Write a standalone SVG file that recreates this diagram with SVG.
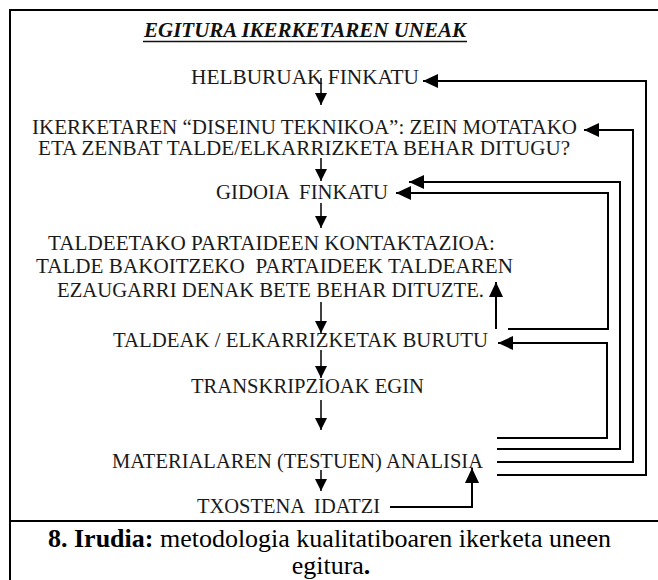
<svg xmlns="http://www.w3.org/2000/svg" width="658" height="580" viewBox="0 0 658 580">
<style>
.t{font-family:"Liberation Serif","DejaVu Serif","Times New Roman",serif;font-size:20px;fill:#1a1a1a;white-space:pre}
.title{font-family:"Liberation Serif","DejaVu Serif","Times New Roman",serif;font-size:21px;font-weight:bold;font-style:italic;fill:#111}
.cap{font-family:"Liberation Serif","DejaVu Serif","Times New Roman",serif;font-size:26px;fill:#000}
.frame{fill:none;stroke:#000;stroke-width:2}
.loop{fill:none;stroke:#000;stroke-width:2;marker-end:url(#big)}
.down{fill:none;stroke:#000;stroke-width:1.5;marker-end:url(#small)}
</style>
<defs>
<marker id="big" markerUnits="userSpaceOnUse" markerWidth="16" markerHeight="14" refX="15" refY="7" orient="auto"><path d="M0,0 L15,7 L0,14 z" fill="#000"/></marker>
<marker id="small" markerUnits="userSpaceOnUse" markerWidth="13" markerHeight="12" refX="12" refY="6" orient="auto"><path d="M0,0 L12,6 L0,12 z" fill="#000"/></marker>
</defs>
<rect x="0" y="0" width="658" height="580" fill="#fff"/>
<g id="frame">
<rect class="frame" x="10" y="10" width="660" height="600"/>
<line class="frame" x1="10" y1="521" x2="670" y2="521"/>
</g>
<g id="title">
<text class="title" x="144" y="37" textLength="322" lengthAdjust="spacingAndGlyphs">EGITURA IKERKETAREN UNEAK</text>
<line x1="143" y1="41.5" x2="467" y2="41.5" stroke="#111" stroke-width="1.5"/>
</g>
<g id="helburuak"><text class="t" x="191" y="84" textLength="228" lengthAdjust="spacingAndGlyphs">HELBURUAK FINKATU</text></g>
<g id="diseinua">
<text class="t" x="32" y="134" textLength="545" lengthAdjust="spacingAndGlyphs">IKERKETAREN “DISEINU TEKNIKOA”: ZEIN MOTATAKO</text>
<text class="t" x="38" y="155" textLength="532" lengthAdjust="spacingAndGlyphs">ETA ZENBAT TALDE/ELKARRIZKETA BEHAR DITUGU?</text>
</g>
<g id="gidoia"><text class="t" x="216" y="199" textLength="172" lengthAdjust="spacingAndGlyphs">GIDOIA  FINKATU</text></g>
<g id="kontaktazioa">
<text class="t" x="48" y="250" textLength="447" lengthAdjust="spacingAndGlyphs">TALDEETAKO PARTAIDEEN KONTAKTAZIOA:</text>
<text class="t" x="36" y="273" textLength="477" lengthAdjust="spacingAndGlyphs">TALDE BAKOITZEKO  PARTAIDEEK TALDEAREN</text>
<text class="t" x="57" y="297" textLength="427" lengthAdjust="spacingAndGlyphs">EZAUGARRI DENAK BETE BEHAR DITUZTE.</text>
</g>
<g id="taldeak"><text class="t" x="113" y="347" textLength="375" lengthAdjust="spacingAndGlyphs">TALDEAK / ELKARRIZKETAK BURUTU</text></g>
<g id="transkripzioak"><text class="t" x="191" y="393" textLength="233" lengthAdjust="spacingAndGlyphs">TRANSKRIPZIOAK EGIN</text></g>
<g id="analisia"><text class="t" x="112" y="468" textLength="371" lengthAdjust="spacingAndGlyphs">MATERIALAREN (TESTUEN) ANALISIA</text></g>
<g id="txostena"><text class="t" x="197" y="513" textLength="183" lengthAdjust="spacingAndGlyphs">TXOSTENA  IDATZI</text></g>
<g id="connectors">
<path class="down" d="M321,78 V105"/>
<path class="down" d="M321,158 V181"/>
<path class="down" d="M321,203 V228"/>
<path class="down" d="M321,302 V333"/>
<path class="down" d="M321,350 V378"/>
<path class="down" d="M321,400 V430"/>
<path class="down" d="M321,470 V491"/>
<path class="loop" d="M497,475 H646 V81 H423"/>
<path class="loop" d="M497,462 H633 V130 H584"/>
<path class="loop" d="M497,449 H620 V182 H409"/>
<path class="loop" d="M497,438 H607 V343 H498"/>
<path class="loop" d="M508,329 H608 V193 H396"/>
<path class="loop" d="M496,329 V282"/>
<path class="loop" d="M390,507 H472 V468"/>
</g>
<g id="caption">
<text class="cap" x="48" y="547" textLength="563" lengthAdjust="spacingAndGlyphs"><tspan font-weight="bold">8. Irudia:</tspan> metodologia kualitatiboaren ikerketa uneen</text>
<text class="cap" x="331" y="574" text-anchor="middle">egitura<tspan font-weight="bold">.</tspan></text>
</g>
</svg>
